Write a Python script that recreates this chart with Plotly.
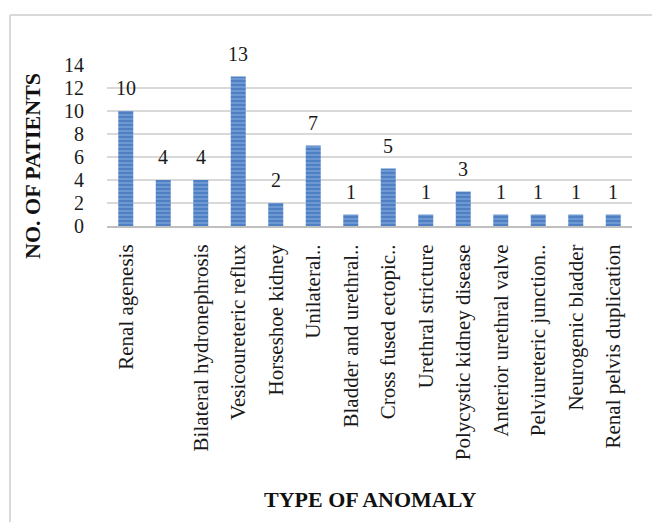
import plotly.graph_objects as go

categories = [
    "Renal agenesis", " ", "Bilateral hydronephrosis", "Vesicoureteric reflux",
    "Horseshoe kidney", "Unilateral..", "Bladder and urethral..", "Cross fused ectopic..",
    "Urethral stricture", "Polycystic kidney disease", "Anterior urethral valve",
    "Pelviureteric junction..", "Neurogenic bladder", "Renal pelvis duplication",
]
patients = [10, 4, 4, 13, 2, 7, 1, 5, 1, 3, 1, 1, 1, 1]
y_ticks = [0, 2, 4, 6, 8, 10, 12, 14]

FONT = "Liberation Serif, Times New Roman, Times, serif"

fig = go.Figure()
fig.add_trace(go.Bar(
    x=categories, y=patients,
    marker=dict(
        color="#4F80C4",
        line=dict(width=0),
        pattern=dict(shape="-", fgcolor="#9DBBE6", size=4, solidity=0.4),
    ),
    width=0.4,
    hoverinfo="x+y",
))

for c, v in zip(categories, patients):
    fig.add_annotation(
        x=c, y=v, text=str(v), showarrow=False, xref="x", yref="y",
        yanchor="middle", yshift=23,
        font=dict(family=FONT, size=20, color="#1a1a1a"),
    )

# axis titles
fig.add_annotation(
    x=0.5, y=-1.70, xref="paper", yref="paper", text="<b>TYPE OF ANOMALY</b>",
    showarrow=False, xanchor="center", yanchor="middle",
    font=dict(family=FONT, size=22, color="#111111"),
)
fig.add_annotation(
    x=-0.141, y=0.373, xref="paper", yref="paper", text="<b>NO. OF PATIENTS</b>",
    showarrow=False, textangle=-90, xanchor="center", yanchor="middle",
    font=dict(family=FONT, size=22, color="#111111"),
)

# chart border: only top and left edges are visible in the frame
border = dict(color="#D9D9D9", width=2)
fig.add_shape(type="line", xref="paper", yref="paper",
              x0=-0.1848, x1=1.04, y0=1.3106, y1=1.3106, line=border, layer="below")
fig.add_shape(type="line", xref="paper", yref="paper",
              x0=-0.1848, x1=-0.1848, y0=-1.84, y1=1.3106, line=border, layer="below")

fig.update_layout(
    width=652, height=522,
    margin=dict(l=107, r=20, t=65, b=296),
    paper_bgcolor="white", plot_bgcolor="white",
    showlegend=False,
    font=dict(family=FONT, size=20, color="#222222"),
    xaxis=dict(
        type="category", tickangle=-90,
        tickfont=dict(family=FONT, size=21, color="#1a1a1a"),
        showline=True, linecolor="#BFBFBF", linewidth=2,
        showgrid=False, ticks="", ticklabelstandoff=8,
    ),
    yaxis=dict(
        range=[0, 14], tickvals=y_ticks,
        tickfont=dict(family=FONT, size=20, color="#1a1a1a"),
        showgrid=True, gridcolor="#D9D9D9", gridwidth=1.5,
        zeroline=False, showline=False, ticks="", ticklabelstandoff=22,
    ),
    bargap=0.6,
)

fig.write_html(
    "out.html",
    config={"displayModeBar": False},
    post_script="document.body.style.margin='0';document.body.style.overflow='hidden';",
)
